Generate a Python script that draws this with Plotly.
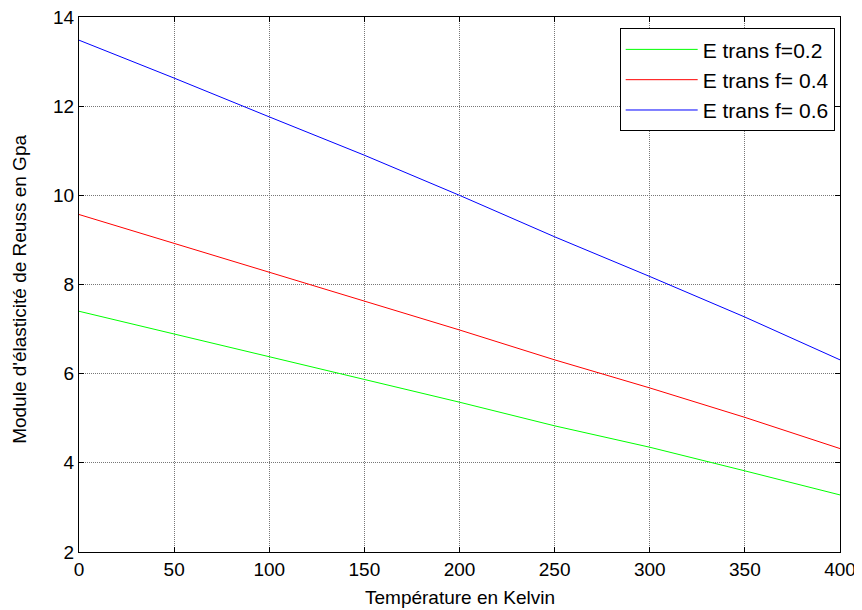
import plotly.graph_objects as go

temperature = [0, 50, 100, 150, 200, 250, 300, 350, 400]
e_f02 = [7.40, 6.89, 6.39, 5.87, 5.36, 4.83, 4.35, 3.82, 3.28]
e_f04 = [9.57, 8.92, 8.28, 7.63, 6.98, 6.31, 5.68, 5.02, 4.32]
e_f06 = [13.48, 12.63, 11.76, 10.90, 10.00, 9.07, 8.18, 7.27, 6.31]

series_names = ["E trans f=0.2", "E trans f= 0.4", "E trans f= 0.6"]
series_colors = ["#00ff00", "#ff0000", "#0000ff"]
x_ticks = [0, 50, 100, 150, 200, 250, 300, 350, 400]
y_ticks = [2, 4, 6, 8, 10, 12, 14]
x_title = "Température en Kelvin"
y_title = "Module d'élasticité de Reuss en Gpa"

fig = go.Figure()
for name, vals, col in zip(series_names, [e_f02, e_f04, e_f06], series_colors):
    fig.add_trace(go.Scatter(x=temperature, y=vals, mode="lines", name=name,
                             line=dict(color=col, width=1)))

family = "Liberation Sans, Arial, sans-serif"
font = dict(family=family, size=19, color="black")
axis_common = dict(showline=True, linecolor="black", linewidth=1, mirror="ticks",
                   ticks="inside", ticklen=5, tickcolor="black",
                   showgrid=True, gridcolor="#777777", gridwidth=1, griddash="1px,1px",
                   zeroline=False, tickfont=font, automargin=False,
                   ticklabeloverflow="allow")

# page has 8px body margin: figure placed at (8,8)
W, H = 862, 610
ml, mt = 71, 9
mr, mb = W - 832, H - 544
plot_w = W - ml - mr
plot_h = H - mt - mb

fig.update_layout(
    width=W, height=H,
    margin=dict(l=ml, r=mr, t=mt, b=mb),
    paper_bgcolor="white", plot_bgcolor="white",
    font=font,
    showlegend=True,
    legend=dict(x=0.993, y=0.979, xanchor="right", yanchor="top",
                bgcolor="white", bordercolor="black", borderwidth=1,
                font=dict(family=family, size=21, color="black"),
                itemwidth=72, tracegroupgap=0),
    xaxis=dict(range=[0, 400], tickvals=x_ticks, **axis_common),
    yaxis=dict(range=[2, 14], tickvals=y_ticks, **axis_common),
    annotations=[
        dict(text=x_title, xref="paper", yref="paper", x=0.5, y=-(589 - (H - mb)) / plot_h,
             xanchor="center", yanchor="middle", showarrow=False, font=font),
        dict(text=y_title, xref="paper", yref="paper", x=-(ml - 12) / plot_w, y=0.49,
             xanchor="center", yanchor="middle", showarrow=False, textangle=-90, font=font),
    ],
)

fig.write_html("out.html")
